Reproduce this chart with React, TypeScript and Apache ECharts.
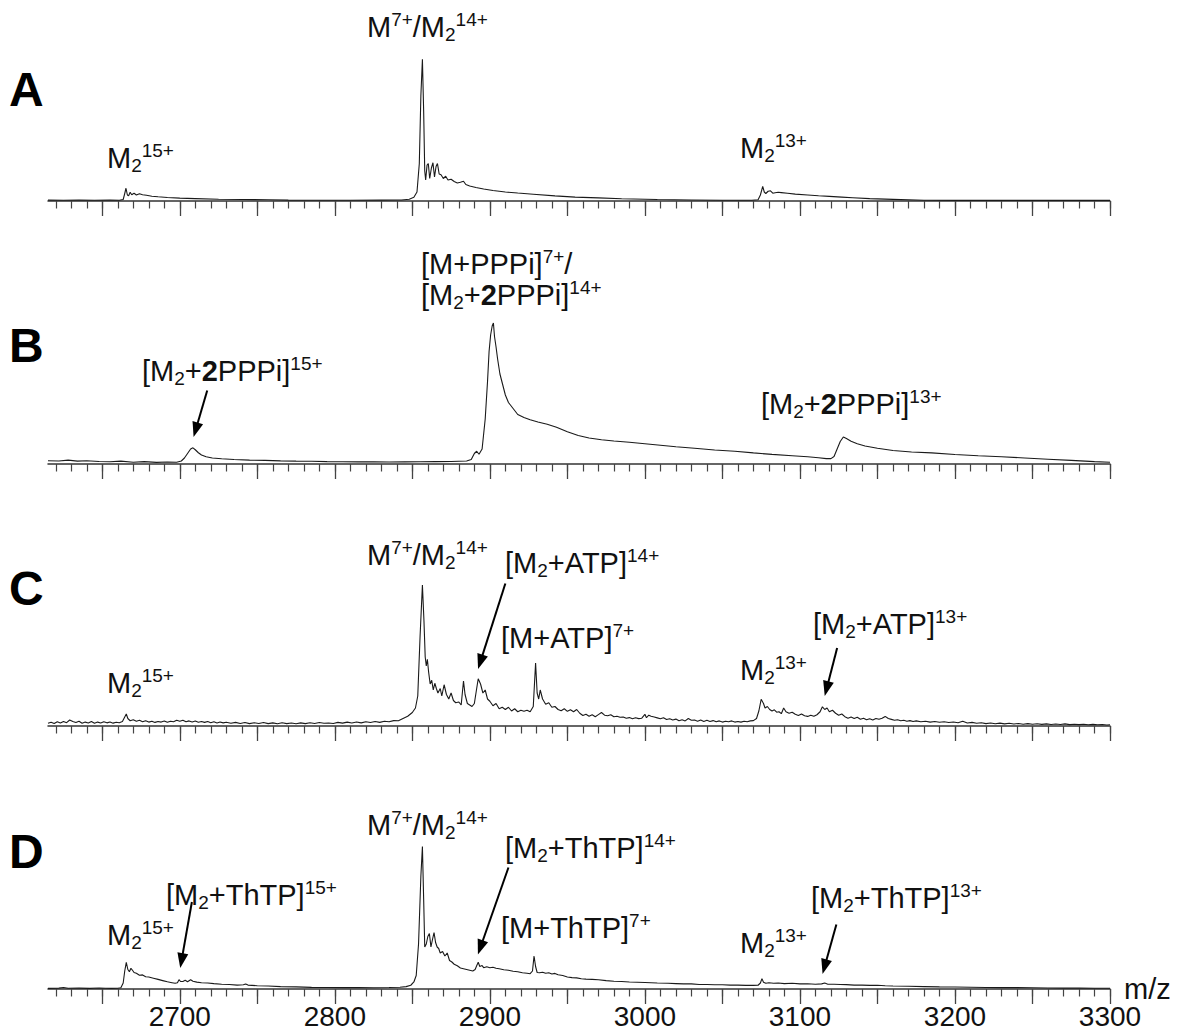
import React, { useEffect, useRef } from "react";
import * as echarts from "echarts";

const FONT = "'Liberation Sans', Arial, sans-serif";

// x range (m/z)
const X_MIN = 2615;
const X_MAX = 3300;
const MAJOR_TICKS = [2650, 2700, 2750, 2800, 2850, 2900, 2950, 3000, 3050, 3100, 3150, 3200, 3250, 3300];
const TICK_LABELS = [2700, 2800, 2900, 3000, 3100, 3200, 3300];
const MINOR_TICKS: number[] = [];
for (let t = 2620; t <= 3300; t += 10) MINOR_TICKS.push(t);
const X_TITLE = "m/z";

// Spectrum A : apo protein
const SPEC_A: [number, number][] = [
  [2615, 0.6], [2625, 0.5], [2635, 0.7], [2645, 0.5], [2655, 0.6], [2661, 0.5], [2663.5, 1.0], [2664.5, 5], [2665.3, 8.5],
  [2666.2, 4], [2667, 3.5], [2668, 5.8], [2669, 4.2], [2670.5, 5.2], [2672, 4.0], [2674, 4.8], [2676, 4.2], [2678.5, 3.8],
  [2682, 3.2], [2686, 2.8], [2692, 2.3], [2700, 1.9], [2710, 1.6], [2725, 1.2], [2740, 1.0], [2757, 0.8], [2770, 0.6],
  [2790, 0.5], [2810, 0.5], [2830, 0.6], [2843, 0.7], [2848, 1.2], [2851, 2.5], [2853, 6], [2854.5, 25], [2855.5, 70],
  [2856.5, 94.5], [2857.3, 60], [2858, 20], [2858.6, 14], [2859.5, 24], [2860.3, 25], [2861.2, 15], [2862.3, 22],
  [2863.3, 25.5], [2864.3, 16], [2865.3, 23], [2866.2, 25], [2867.3, 18], [2868.5, 17.5], [2870, 15], [2871.5, 16.5],
  [2873, 14], [2875, 14.5], [2877, 13], [2879, 12], [2881, 12.5], [2883, 13.2], [2884.5, 11], [2887, 10], [2891, 9],
  [2896, 8], [2902, 7], [2910, 6], [2918, 5.3], [2928, 4.5], [2942, 3.4], [2955, 2.6], [2970, 2.1], [2985, 1.5],
  [3008, 1.0], [3030, 0.7], [3050, 0.5], [3069, 0.5], [3073, 0.8], [3074.5, 4], [3076, 9.8], [3077, 6], [3078, 5],
  [3079.5, 6.5], [3081, 6.8], [3082.5, 5.2], [3084, 5.5], [3086, 5.8], [3088, 5.6], [3092, 5.2], [3097, 4.6], [3105, 4.0],
  [3112, 3.5], [3119, 3.1], [3127, 2.6], [3134, 2.2], [3145, 1.6], [3160, 1.1], [3180, 0.5], [3200, 0.4], [3230, 0.4],
  [3260, 0.4], [3300, 0.4],
];

// Spectrum B : + PPPi
const SPEC_B: [number, number][] = [
  [2615, 2.2], [2622, 2.0], [2628, 2.6], [2634, 1.9], [2640, 2.2], [2648, 1.7], [2655, 1.5], [2662, 1.9], [2670, 1.2],
  [2677, 1.6], [2685, 1.1], [2692, 1.3], [2698, 1.2], [2701, 2.0], [2703, 4], [2705, 7], [2707, 10], [2708.5, 10.8],
  [2710, 9.5], [2712, 7.5], [2714, 6], [2717, 4.8], [2721, 4.0], [2727, 3.5], [2735, 3.0], [2745, 2.6], [2755, 2.4],
  [2765, 2.1], [2775, 1.9], [2785, 1.8], [2795, 1.6], [2805, 1.5], [2815, 1.4], [2825, 1.4], [2835, 1.3], [2845, 1.4],
  [2855, 1.5], [2865, 1.6], [2875, 1.7], [2885, 2], [2888, 3], [2890, 7], [2891.5, 8.5], [2893, 6.5], [2895, 10],
  [2897, 30], [2898.5, 55], [2899.5, 75], [2900.5, 86], [2901.5, 92], [2902.3, 94], [2903, 85], [2904, 78], [2905, 70],
  [2906.5, 60], [2908, 54], [2910, 46], [2912, 41], [2915, 37], [2918, 33], [2922, 31], [2926, 29.5], [2931, 28],
  [2937, 26.5], [2943, 24.5], [2950, 21.5], [2957, 19], [2964, 17.3], [2972, 16.2], [2980, 15.3], [2990, 14.5], [3000, 13.5],
  [3010, 12.5], [3020, 11.5], [3032, 10.5], [3045, 9.3], [3058, 8.5], [3070, 7.4], [3082, 6.4], [3095, 5.5], [3105, 4.8],
  [3112, 4.2], [3117, 3.6], [3120, 3.6], [3122, 5], [3124, 10], [3126, 15], [3128, 18], [3130, 17], [3133, 15.2],
  [3137, 13.5], [3142, 12], [3150, 10.5], [3160, 9], [3172, 8], [3185, 7.4], [3200, 6.3], [3215, 5.5], [3230, 4.8],
  [3245, 4.0], [3260, 3.2], [3275, 2.4], [3290, 1.6], [3300, 1.2],
];

// Spectrum C : + ATP
const SPEC_C: [number, number][] = [
  [2615, 1.8], [2617, 2.5], [2619, 1.6], [2621, 2.8], [2623, 2.0], [2625, 3.0], [2627, 2.2], [2629, 4.0], [2631, 3.0],
  [2633, 2.3], [2635, 3.2], [2637, 1.8], [2639, 2.6], [2641, 2.0], [2643, 3.0], [2645, 1.9], [2647, 2.6], [2649, 2.0],
  [2651, 2.8], [2653, 2.1], [2655, 2.7], [2657, 1.9], [2659, 2.5], [2661, 2.2], [2663, 3.0], [2664.5, 6], [2665.5, 8],
  [2666.5, 5], [2668, 3.5], [2670, 4.2], [2672, 3.2], [2674, 3.8], [2676, 2.8], [2678, 3.5], [2680, 2.6], [2682, 3.2],
  [2684, 2.4], [2686, 3.0], [2688, 2.6], [2690, 3.4], [2692, 2.5], [2694, 3.2], [2696, 2.8], [2698, 3.8], [2700, 3.2],
  [2702, 3.9], [2704, 2.8], [2706, 3.4], [2708, 2.6], [2710, 3.3], [2712, 2.5], [2714, 3.0], [2716, 2.4], [2718, 3.0],
  [2720, 2.2], [2722, 2.8], [2724, 2.0], [2726, 2.7], [2728, 2.1], [2730, 2.5], [2733, 1.8], [2736, 2.4], [2739, 1.7],
  [2742, 2.3], [2745, 1.6], [2748, 2.2], [2751, 1.7], [2754, 2.3], [2757, 1.6], [2760, 2.1], [2763, 1.5], [2766, 2.2],
  [2769, 1.6], [2772, 2.0], [2775, 1.5], [2778, 2.1], [2781, 1.6], [2784, 2.2], [2787, 1.7], [2790, 2.3], [2793, 1.8],
  [2796, 2.0], [2799, 1.7], [2802, 2.4], [2805, 1.9], [2808, 2.6], [2811, 2.0], [2814, 2.7], [2817, 2.1], [2820, 2.8],
  [2823, 2.3], [2826, 3.0], [2829, 2.4], [2832, 3.2], [2835, 2.8], [2838, 3.6], [2841, 3.5], [2844, 5], [2847, 6.5],
  [2850, 9], [2852, 12], [2853.5, 20], [2855, 60], [2856.5, 94], [2857.5, 70], [2858.3, 46], [2859, 40], [2859.7, 44.5],
  [2860.5, 36], [2861.5, 28], [2862.5, 30.5], [2863.5, 24], [2864.5, 28.5], [2865.5, 25], [2866.5, 22], [2868, 25],
  [2869, 20], [2870.5, 27.5], [2872, 21], [2873.5, 18], [2875, 22], [2876.5, 17], [2878, 15.5], [2880, 16], [2881.5, 14],
  [2883, 30], [2884, 21], [2885.5, 15], [2887, 14], [2888.5, 13], [2890, 15], [2891.5, 25], [2892.5, 31.5], [2894, 28],
  [2895.5, 22], [2897, 24], [2898.5, 18], [2900, 16.5], [2902, 13.5], [2904, 15], [2906, 11.5], [2908, 12.5], [2910, 11],
  [2912, 12.5], [2914, 10], [2916, 11.5], [2918, 9.5], [2920, 10.5], [2922, 9.8], [2924, 10.5], [2926, 9.5], [2928, 13],
  [2929.5, 42], [2930.5, 22], [2931.5, 18], [2932.5, 24], [2934, 18], [2936, 14.5], [2938, 15.5], [2940, 12.5], [2942, 13],
  [2944, 11], [2946, 10.2], [2948, 11.5], [2950, 9.8], [2952, 10.8], [2954, 9.5], [2956, 11], [2958, 8.5], [2960, 7],
  [2962, 7.8], [2964, 6.5], [2966, 7.5], [2968, 6.2], [2970, 7.6], [2972, 9.0], [2974, 7.2], [2976, 6.8], [2978, 7.5],
  [2980, 6.2], [2982, 6.5], [2984, 5.8], [2986, 6.0], [2988, 5.2], [2990, 5.6], [2992, 4.8], [2994, 5.5], [2996, 4.9],
  [2998, 5.2], [3000, 7.8], [3001, 5.5], [3002.5, 7.2], [3004, 6.5], [3006, 6.0], [3008, 5.4], [3010, 4.8], [3012, 5.5],
  [3014, 4.3], [3016, 4.8], [3018, 4.0], [3020, 4.6], [3022, 3.5], [3024, 4.2], [3026, 3.4], [3028, 5.0], [3030, 3.8],
  [3032, 4.0], [3034, 3.2], [3036, 4.0], [3038, 3.0], [3040, 3.8], [3042, 3.0], [3044, 3.6], [3046, 2.8], [3048, 3.4],
  [3050, 2.6], [3052, 3.2], [3054, 2.8], [3056, 3.4], [3058, 2.6], [3060, 3.0], [3062, 2.6], [3064, 3.2], [3066, 2.8],
  [3068, 3.4], [3070, 3.6], [3072, 5], [3073.5, 10], [3075, 17.8], [3076.5, 15], [3077.5, 12], [3079, 13], [3080.5, 11],
  [3082, 10], [3083.5, 10.8], [3085, 9.2], [3086.5, 9.5], [3088, 8.2], [3089.5, 12], [3091, 9.5], [3093, 8.5], [3095, 9.2],
  [3097, 7.8], [3099, 7.0], [3101, 8.0], [3103, 6.8], [3105, 6.4], [3107, 7.2], [3109, 6.5], [3111, 7.5], [3113, 9.5],
  [3114.5, 12.8], [3116, 11], [3117.5, 12], [3119, 9.5], [3121, 10.5], [3123, 8.5], [3125, 7.2], [3127, 8.0], [3129, 6.2],
  [3131, 5.2], [3133, 6.0], [3135, 5.0], [3137, 5.8], [3139, 4.5], [3141, 5.2], [3143, 4.2], [3145, 4.8], [3147, 4.0],
  [3149, 5.0], [3151, 4.5], [3153, 5.2], [3155, 6.4], [3157, 5.0], [3159, 4.4], [3161, 3.8], [3163, 4.2], [3165, 3.5],
  [3167, 3.8], [3169, 3.2], [3171, 3.6], [3173, 3.0], [3175, 3.4], [3178, 2.8], [3181, 3.2], [3184, 2.6], [3187, 3.0],
  [3190, 2.5], [3193, 2.8], [3196, 2.3], [3199, 2.7], [3202, 2.2], [3205, 3.2], [3208, 2.0], [3211, 2.4], [3214, 1.8],
  [3217, 2.2], [3220, 1.6], [3223, 2.0], [3226, 1.5], [3229, 1.9], [3232, 1.4], [3235, 1.8], [3238, 1.3], [3241, 1.7],
  [3244, 1.2], [3247, 1.6], [3250, 1.2], [3253, 1.5], [3256, 1.1], [3259, 1.4], [3262, 1.0], [3265, 1.3], [3268, 1.0],
  [3271, 1.4], [3274, 0.9], [3277, 1.2], [3280, 0.9], [3283, 1.2], [3286, 0.8], [3289, 1.1], [3292, 0.8], [3295, 1.0],
  [3298, 0.7], [3300, 0.8],
];

// Spectrum D : + ThTP
const SPEC_D: [number, number][] = [
  [2615, 0.4], [2622, 0.6], [2625, 1.0], [2628, 0.5], [2635, 0.6], [2642, 0.4], [2648, 0.7], [2652, 0.5], [2656, 0.4],
  [2660, 0.5], [2662, 0.8], [2663.5, 4], [2664.5, 12], [2665.5, 17.8], [2666.5, 13], [2667.5, 11.5], [2668.5, 13.8],
  [2669.5, 12.5], [2670.5, 11], [2672, 10.5], [2674, 9.2], [2676, 9.4], [2678, 8.2], [2680, 8.0], [2683, 7.2], [2686, 6.4],
  [2689, 5.6], [2692, 4.8], [2695, 4.2], [2697, 3.8], [2698.5, 4.2], [2699.5, 6.2], [2700.5, 5.0], [2702, 5.0],
  [2703.5, 5.8], [2705, 4.8], [2707, 6.2], [2708.5, 5.2], [2711, 4.6], [2714, 4.2], [2718, 4.0], [2722, 3.6], [2727, 3.2],
  [2732, 3.0], [2737, 2.6], [2741, 2.8], [2742.5, 3.4], [2744, 2.6], [2750, 2.2], [2757, 2.0], [2765, 1.6], [2775, 1.4],
  [2785, 1.1], [2795, 1.0], [2805, 0.9], [2815, 0.9], [2825, 0.8], [2835, 1.0], [2842, 1.2], [2846, 1.6], [2849, 2.5],
  [2851, 4.7], [2852.5, 9], [2854, 30], [2855.5, 75], [2856.5, 95], [2857.3, 60], [2858, 28], [2859, 30], [2860, 35],
  [2861, 37], [2862, 28], [2863, 33], [2864, 37.6], [2865, 31], [2866, 28], [2867, 27], [2868, 24], [2869.5, 25],
  [2871, 22], [2872.5, 24], [2874, 19], [2875.5, 18], [2877, 16.5], [2879, 15.5], [2881, 14], [2883, 13.5], [2885, 13],
  [2887, 12.5], [2889, 12], [2890.5, 13], [2891.5, 15.5], [2892.5, 17.8], [2893.5, 15], [2895, 15.6], [2896, 14.2],
  [2898, 14.8], [2900, 14.2], [2902, 14.5], [2904, 13.8], [2906, 13.5], [2909, 12.8], [2912, 12.5], [2915, 11.8],
  [2918, 11.5], [2921, 10.8], [2924, 10.5], [2926, 10.2], [2927.5, 12], [2928.5, 22], [2929.5, 15], [2930.5, 11],
  [2932, 10.8], [2934, 11.2], [2936, 10.5], [2938, 10.8], [2940, 10.0], [2942, 10.4], [2944, 9.5], [2947, 9.0], [2950, 8.0],
  [2953, 7.6], [2956, 7.4], [2959, 6.8], [2962, 6.6], [2966, 6.4], [2970, 6.2], [2975, 5.6], [2980, 5.2], [2985, 5.0],
  [2990, 4.7], [2995, 4.5], [3000, 4.3], [3008, 4.0], [3015, 3.8], [3020, 3.6], [3025, 3.4], [3030, 3.4], [3035, 3.0],
  [3040, 3.0], [3045, 2.8], [3050, 2.8], [3055, 2.6], [3060, 2.6], [3065, 2.4], [3070, 2.4], [3073, 2.5], [3074.5, 4],
  [3075.5, 6.9], [3076.5, 4.5], [3078, 3.8], [3080, 4.2], [3083, 3.8], [3086, 4.0], [3090, 3.6], [3095, 3.8], [3100, 3.4],
  [3105, 3.5], [3110, 3.2], [3114, 3.4], [3116, 4.0], [3118, 3.2], [3122, 3.2], [3126, 3.0], [3130, 2.9], [3135, 2.6],
  [3140, 2.6], [3145, 2.4], [3150, 2.5], [3155, 2.2], [3160, 2.0], [3170, 1.8], [3180, 1.6], [3190, 1.4], [3200, 1.3],
  [3210, 1.2], [3220, 1.0], [3230, 0.9], [3240, 0.9], [3250, 0.8], [3260, 0.7], [3270, 0.6], [3280, 0.6], [3290, 0.5],
  [3300, 0.5],
];

// Arrows: [fromMz, fromI, toMz, toI] per panel (data coordinates)
const ARROWS_A: number[][] = [];
const ARROWS_B: number[][] = [[2717.7, 49, 2708.9, 18]];
const ARROWS_C: number[][] = [[2910, 95, 2892.4, 38], [3124, 52, 3116, 20]];
const ARROWS_D: number[][] = [[2707.8, 58, 2700.3, 14], [2912, 81, 2892.3, 23], [3123.5, 43, 3114.6, 10]];

const PANEL_LETTERS = ["A", "B", "C", "D"];
const SPECTRA = [SPEC_A, SPEC_B, SPEC_C, SPEC_D];
const ARROWS = [ARROWS_A, ARROWS_B, ARROWS_C, ARROWS_D];

// Peak annotations (rich text), left x / baseline y in px
const LABELS: { t: string; x: number; y: number }[] = [
  { t: "{n|M}{sup|7+}{n|/M}{sub|2}{sup|14+}", x: 367, y: 37 },
  { t: "{n|M}{sub|2}{sup|15+}", x: 107, y: 168 },
  { t: "{n|M}{sub|2}{sup|13+}", x: 740, y: 158 },
  { t: "{n|[M+PPPi]}{sup|7+}{n|/}", x: 421, y: 274 },
  { t: "{n|[M}{sub|2}{n|+}{b|2}{n|PPPi]}{sup|14+}", x: 421, y: 305 },
  { t: "{n|[M}{sub|2}{n|+}{b|2}{n|PPPi]}{sup|15+}", x: 142, y: 381 },
  { t: "{n|[M}{sub|2}{n|+}{b|2}{n|PPPi]}{sup|13+}", x: 761, y: 414 },
  { t: "{n|M}{sup|7+}{n|/M}{sub|2}{sup|14+}", x: 367, y: 565 },
  { t: "{n|[M}{sub|2}{n|+ATP]}{sup|14+}", x: 505, y: 573 },
  { t: "{n|[M+ATP]}{sup|7+}", x: 501, y: 648 },
  { t: "{n|M}{sub|2}{sup|15+}", x: 107, y: 693 },
  { t: "{n|M}{sub|2}{sup|13+}", x: 740, y: 680 },
  { t: "{n|[M}{sub|2}{n|+ATP]}{sup|13+}", x: 813, y: 634 },
  { t: "{n|M}{sup|7+}{n|/M}{sub|2}{sup|14+}", x: 367, y: 835 },
  { t: "{n|[M}{sub|2}{n|+ThTP]}{sup|14+}", x: 505, y: 858 },
  { t: "{n|[M+ThTP]}{sup|7+}", x: 501, y: 938 },
  { t: "{n|[M}{sub|2}{n|+ThTP]}{sup|15+}", x: 166, y: 905 },
  { t: "{n|M}{sub|2}{sup|15+}", x: 107, y: 945 },
  { t: "{n|M}{sub|2}{sup|13+}", x: 740, y: 953 },
  { t: "{n|[M}{sub|2}{n|+ThTP]}{sup|13+}", x: 811, y: 908 },
];
const LETTER_BASELINES = [106, 362, 605, 868];

const AXIS_Y = [201, 464, 726, 989];
const PLOT_H = 150;

const MAIN_FS = 29;
const MAIN_LH = 34;
const RICH = {
  n: { fontFamily: FONT, fontSize: MAIN_FS, lineHeight: MAIN_LH, fill: "#111" },
  b: { fontFamily: FONT, fontSize: MAIN_FS, lineHeight: MAIN_LH, fontWeight: "bold", fill: "#111" },
  sup: { fontFamily: FONT, fontSize: 19, lineHeight: 19, verticalAlign: "top", fill: "#111" },
  sub: { fontFamily: FONT, fontSize: 19, lineHeight: 15, verticalAlign: "bottom", fill: "#111" },
};

export default function App() {
  const ref = useRef<HTMLDivElement>(null);
  useEffect(() => {
    if (!ref.current) return;
    const chart = echarts.init(ref.current, undefined, { renderer: "svg" });
    const grids: any[] = [];
    const xAxes: any[] = [];
    const yAxes: any[] = [];
    const series: any[] = [];
    AXIS_Y.forEach((ay, g) => {
      grids.push({ left: 48, right: 73, top: ay - PLOT_H, height: PLOT_H, containLabel: false, outerBoundsMode: "none" });
      const last = g === AXIS_Y.length - 1;
      xAxes.push({
        type: "value",
        gridIndex: g,
        position: "bottom",
        min: X_MIN,
        max: X_MAX,
        axisLine: { show: true, onZero: false, lineStyle: { color: "#333", width: 1.5 } },
        axisTick: { show: true, customValues: MAJOR_TICKS, length: 15, lineStyle: { color: "#444", width: 1.3 } },
        axisLabel: last
          ? {
              show: true,
              customValues: TICK_LABELS,
              fontSize: 28,
              fontFamily: FONT,
              color: "#111",
              margin: 13,
              formatter: (v: number) => String(v),
            }
          : { show: false },
        splitLine: { show: false },
      });
      xAxes.push({
        type: "value",
        gridIndex: g,
        position: "bottom",
        min: X_MIN,
        max: X_MAX,
        axisLine: { show: false, onZero: false },
        axisTick: { show: true, customValues: MINOR_TICKS, length: 7.5, lineStyle: { color: "#444", width: 1.2 } },
        axisLabel: { show: false },
        splitLine: { show: false },
      });
      yAxes.push({ type: "value", gridIndex: g, min: 0, max: 100, show: false });
      series.push({
        type: "line",
        xAxisIndex: g * 2,
        yAxisIndex: g,
        data: SPECTRA[g],
        showSymbol: false,
        symbol: "none",
        silent: true,
        lineStyle: { color: "#1a1a1a", width: 1.1 },
      });
    });

    chart.setOption({
      animation: false,
      backgroundColor: "#fff",
      grid: grids,
      xAxis: xAxes,
      yAxis: yAxes,
      series,
    });

    const graphics: any[] = [];
    PANEL_LETTERS.forEach((l, i) => {
      graphics.push({
        type: "text",
        x: 9,
        y: LETTER_BASELINES[i] - 0.3465 * 48,
        style: { text: l, fontFamily: FONT, fontSize: 48, fontWeight: "bold", fill: "#000", verticalAlign: "middle" },
      });
    });
    LABELS.forEach((lb) => {
      graphics.push({
        type: "text",
        x: lb.x,
        y: lb.y - (MAIN_LH / 2 + 0.3465 * MAIN_FS),
        style: { text: lb.t, rich: RICH, fontFamily: FONT, fontSize: MAIN_FS, fill: "#111", align: "left", verticalAlign: "top" },
      });
    });
    // x-axis title, placed just right of the axis end on the bottom panel
    const axisEnd = chart.convertToPixel({ seriesIndex: 3 }, [X_MAX, 0]) as number[];
    graphics.push({
      type: "text",
      x: axisEnd[0] + 14,
      y: axisEnd[1],
      style: { text: X_TITLE, fontFamily: FONT, fontSize: 29, fill: "#111", align: "left", verticalAlign: "middle" },
    });
    // arrows, positioned through the series' own coordinate system
    ARROWS.forEach((list, g) => {
      list.forEach((a) => {
        const p1 = chart.convertToPixel({ seriesIndex: g }, [a[0], a[1]]) as number[];
        const p2 = chart.convertToPixel({ seriesIndex: g }, [a[2], a[3]]) as number[];
        const dx = p2[0] - p1[0];
        const dy = p2[1] - p1[1];
        const len = Math.sqrt(dx * dx + dy * dy);
        const ux = dx / len;
        const uy = dy / len;
        const headL = 15;
        const headW = 5.5;
        const bx = p2[0] - ux * headL;
        const by = p2[1] - uy * headL;
        graphics.push({
          type: "line",
          shape: { x1: p1[0], y1: p1[1], x2: bx + ux * 2, y2: by + uy * 2 },
          style: { stroke: "#000", lineWidth: 2 },
          silent: true,
        });
        graphics.push({
          type: "polygon",
          shape: {
            points: [
              [p2[0], p2[1]],
              [bx - uy * headW, by + ux * headW],
              [bx + uy * headW, by - ux * headW],
            ],
          },
          style: { fill: "#000" },
          silent: true,
        });
      });
    });
    chart.setOption({ graphic: graphics });
    return () => chart.dispose();
  }, []);
  return <div ref={ref} style={{ position: "absolute", left: 0, top: 0, width: 1183, height: 1036 }} />;
}
